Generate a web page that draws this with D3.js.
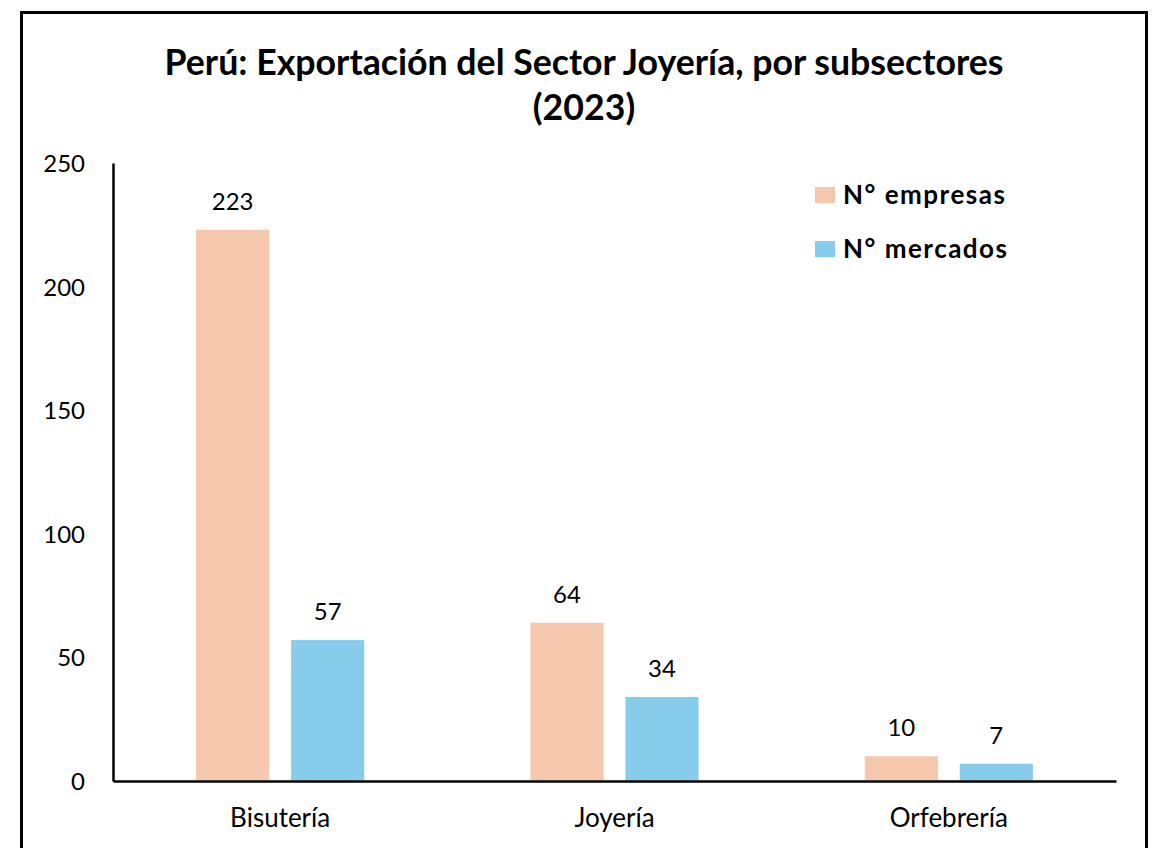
<!DOCTYPE html>
<html lang="es">
<head>
<meta charset="UTF-8">
<title>Perú: Exportación del Sector Joyería</title>
<style>
  body { margin: 0; background: #fff; }
  svg text { font-family: Lato, "Open Sans", sans-serif; fill: #000; }
  .axis path, .axis line { stroke: #000; }
</style>
</head>
<body>
<div id="sv"></div>
<script src="https://d3js.org/d3.v7.min.js"></script>
<script>
// data
var categories = ["Bisutería", "Joyería", "Orfebrería"];
var series = ["N° empresas", "N° mercados"];
var empresas = [223, 64, 10];
var mercados = [57, 34, 7];
var yTicks = [0, 50, 100, 150, 200, 250];
var colors = ["#F5C7AC", "#87CDEB"];

var W = 1153, H = 848;
var margin = {top: 163, right: 37, bottom: 67, left: 113},
    width = W - margin.left - margin.right,
    height = H - margin.top - margin.bottom;

var svg = d3.select("#sv").append("svg")
    .attr("width", W)
    .attr("height", H);

// outer frame
svg.append("rect")
    .attr("x", 21.5).attr("y", 12.5)
    .attr("width", 1125).attr("height", 860)
    .attr("fill", "none")
    .attr("stroke", "#000")
    .attr("stroke-width", 3);

// title
var title = svg.append("text")
    .attr("text-anchor", "middle")
    .attr("font-weight", "bold")
    .attr("font-size", 35.7);
title.append("tspan").attr("x", 584).attr("y", 75)
    .text("Perú: Exportación del Sector Joyería, por subsectores");
title.append("tspan").attr("x", 584).attr("y", 120)
    .text("(2023)");

var g = svg.append("g")
    .attr("transform", "translate(" + margin.left + "," + margin.top + ")");

var x0 = d3.scaleBand().domain(categories).range([0, width]).padding(0);
var x1 = d3.scaleBand().domain(series).range([0, x0.bandwidth()])
    .paddingInner(0.23).paddingOuter(0.875);
var y = d3.scaleLinear().domain([0, 250]).range([height, 0]);

var rows = categories.map(function (c, i) {
    return {cat: c, vals: [empresas[i], mercados[i]]};
});

// y axis
var yAxis = g.append("g").attr("class", "axis")
    .call(d3.axisLeft(y).tickValues(yTicks).tickSize(0).tickPadding(28));
yAxis.select(".domain").attr("stroke-width", 2.5);
yAxis.selectAll("text").attr("font-size", 24).attr("dy", "0.35em");

// x axis
var xAxis = g.append("g").attr("class", "axis")
    .attr("transform", "translate(0," + height + ")")
    .call(d3.axisBottom(x0).tickSize(0).tickPadding(28));
xAxis.select(".domain").attr("stroke-width", 2.5);
xAxis.selectAll("text").attr("font-size", 26);

// bars
var grp = g.selectAll(".grp").data(rows).enter().append("g")
    .attr("class", "grp")
    .attr("transform", function (d) { return "translate(" + x0(d.cat) + ",0)"; });

grp.selectAll("rect")
    .data(function (d) { return d.vals.map(function (v, i) { return {s: series[i], v: v, i: i}; }); })
    .enter().append("rect")
    .attr("x", function (d) { return x1(d.s); })
    .attr("width", x1.bandwidth())
    .attr("y", function (d) { return y(d.v); })
    .attr("height", function (d) { return height - y(d.v) - 1; })
    .attr("fill", function (d) { return colors[d.i]; });

grp.selectAll(".lbl")
    .data(function (d) { return d.vals.map(function (v, i) { return {s: series[i], v: v}; }); })
    .enter().append("text")
    .attr("class", "lbl")
    .attr("text-anchor", "middle")
    .attr("font-size", 24)
    .attr("x", function (d) { return x1(d.s) + x1.bandwidth() / 2; })
    .attr("y", function (d) { return y(d.v) - 20; })
    .text(function (d) { return d.v; });

// redraw x domain on top of bars
xAxis.raise();

// legend
var leg = svg.append("g").attr("transform", "translate(815,187)");
series.forEach(function (s, i) {
    var row = leg.append("g").attr("transform", "translate(0," + (i * 54) + ")");
    row.append("rect").attr("width", 20).attr("height", 16).attr("fill", colors[i]);
    row.append("text")
        .attr("x", 28).attr("y", 8).attr("dy", "0.35em")
        .attr("font-size", 26).attr("font-weight", "bold")
        .attr("letter-spacing", 1.5)
        .text(s);
});
</script>
</body>
</html>
